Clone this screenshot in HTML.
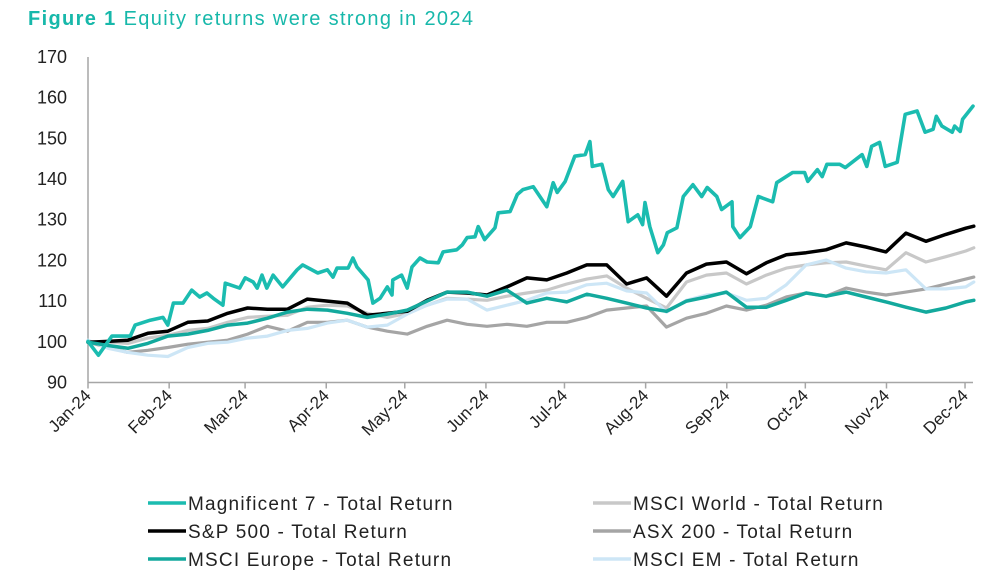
<!DOCTYPE html>
<html><head><meta charset="utf-8"><style>
html,body{margin:0;padding:0;background:#fff;}
svg{display:block;font-family:"Liberation Sans","DejaVu Sans",sans-serif;}
</style></head><body>
<svg id="chart" width="992" height="578" viewBox="0 0 992 578" xmlns="http://www.w3.org/2000/svg">
<text x="28" y="25" font-size="20" fill="#17b8aa" textLength="445" lengthAdjust="spacing"><tspan font-weight="bold">Figure 1</tspan> Equity returns were strong in 2024</text>
<g id="axes"></g>
<g id="series"></g>
<g id="legend"></g>
</svg>
<script>
const yTicks=[90,100,110,120,130,140,150,160,170];
const monthLabels=["Jan-24","Feb-24","Mar-24","Apr-24","May-24","Jun-24","Jul-24","Aug-24","Sep-24","Oct-24","Nov-24","Dec-24"];
const monthDays=[0,31,60,91,121,152,182,213,244,274,305,335];
const mag7X=[0,0.13,0.30,0.53,0.59,0.78,0.94,1.00,1.07,1.19,1.30,1.40,1.49,1.57,1.69,1.72,1.90,1.97,2.07,2.12,2.18,2.24,2.32,2.44,2.62,2.69,2.88,3.00,3.07,3.12,3.26,3.32,3.37,3.51,3.57,3.66,3.75,3.81,3.82,3.93,4.00,4.06,4.16,4.25,4.39,4.45,4.62,4.69,4.75,4.85,4.89,4.97,5.10,5.14,5.29,5.38,5.45,5.58,5.75,5.83,5.88,5.98,6.10,6.23,6.29,6.32,6.44,6.52,6.58,6.70,6.77,6.89,6.95,6.98,7.04,7.14,7.21,7.26,7.38,7.46,7.58,7.69,7.76,7.88,7.94,8.07,8.08,8.17,8.30,8.40,8.58,8.63,8.83,8.98,9.02,9.14,9.20,9.26,9.42,9.49,9.70,9.76,9.82,9.92,9.99,10.14,10.24,10.39,10.49,10.59,10.63,10.70,10.83,10.86,10.93,10.96,11.09];
const mag7Y=[100.1,96.7,101.4,101.4,104.1,105.3,106.0,104.1,109.5,109.5,112.7,111.0,112.0,110.7,109.0,114.4,113.2,115.7,114.7,113.2,116.4,113.2,116.4,113.5,117.7,118.9,116.9,117.7,115.9,118.1,118.1,120.6,118.4,115.2,109.5,110.7,113.5,111.5,115.2,116.4,113.2,118.4,120.6,119.6,119.4,122.1,122.6,123.8,125.6,125.8,128.3,125.1,128.0,131.7,132.0,136.2,137.4,138.1,133.2,139.1,136.7,139.4,145.6,146.0,149.2,143.1,143.6,137.4,135.7,139.4,129.5,131.2,128.8,134.2,128.3,121.9,123.8,126.8,128.0,135.7,138.6,135.7,137.9,135.7,132.5,134.4,128.3,125.6,128.3,135.7,134.4,139.1,141.6,141.6,139.4,142.3,140.6,143.6,143.6,142.8,146.0,143.1,148.0,149.0,143.1,144.1,155.9,156.7,151.5,152.2,155.4,153.0,151.5,153.0,151.7,154.7,157.9];
const gridX=[0,0.25,0.5,0.75,1,1.25,1.5,1.75,2,2.25,2.5,2.75,3,3.25,3.5,3.75,4,4.25,4.5,4.75,5,5.25,5.5,5.75,6,6.25,6.5,6.75,7,7.25,7.5,7.75,8,8.25,8.5,8.75,9,9.25,9.5,9.75,10,10.25,10.5,10.75,11,11.1];
const spY=[99.9,100.1,100.4,102.1,102.6,104.8,105.1,107.0,108.3,108.0,108.0,110.5,110.0,109.5,106.5,107.0,107.5,110.2,112.2,112.0,111.5,113.5,115.7,115.2,116.9,118.9,118.9,114.2,115.7,111.2,116.9,119.1,119.6,116.7,119.4,121.4,121.9,122.6,124.3,123.3,122.1,126.7,124.7,126.4,127.9,128.4];
const worldY=[99.9,99.9,99.6,100.9,101.6,102.8,103.3,104.8,106.0,106.3,106.5,108.5,109.0,108.8,107.0,106.0,107.0,109.0,110.7,110.5,110.2,111.2,112.0,112.7,114.2,115.4,116.2,113.2,110.7,108.3,114.7,116.4,116.9,114.2,116.4,118.1,118.9,119.4,119.6,118.6,117.7,121.9,119.6,120.9,122.3,123.1];
const asxY=[99.9,98.6,97.4,97.9,98.6,99.4,99.9,100.4,101.9,103.8,102.6,104.8,104.8,105.3,103.6,102.6,101.9,103.8,105.3,104.3,103.8,104.3,103.8,104.8,104.8,106.0,107.8,108.3,108.8,103.6,105.8,107.0,108.8,107.8,109.0,111.0,112.0,111.2,113.2,112.2,111.5,112.2,113.0,114.2,115.4,115.9];
const europeY=[99.9,99.1,98.4,99.6,101.4,101.9,102.8,104.1,104.6,105.8,107.3,108.0,107.8,107.0,106.0,106.8,107.8,110.0,112.2,112.2,111.2,112.7,109.5,110.7,109.8,111.7,110.7,109.5,108.3,107.5,110.0,111.0,112.2,108.5,108.5,110.2,112.0,111.2,112.2,111.0,109.8,108.5,107.3,108.3,109.8,110.2];
const emY=[100.4,98.4,97.4,96.7,96.4,98.6,99.6,99.9,100.9,101.4,102.8,103.3,104.6,105.3,103.6,104.1,106.8,109.0,110.5,110.5,107.8,109.0,110.2,112.0,112.2,114.0,114.4,112.5,112.0,107.3,110.2,111.5,112.0,110.2,110.7,114.0,118.9,120.1,118.1,117.2,116.9,117.7,113.0,113.0,113.5,114.7];

const NS="http://www.w3.org/2000/svg";
const X0=88,PXM=79.8,YB=382.5,PXV=4.07;
function xs(m){return X0+m*PXM;}
function xd(d){return X0+d*2.618;}
function ys(v){return YB-(v-90)*PXV;}
function mk(tag,attrs,parent){const e=document.createElementNS(NS,tag);for(const k in attrs)e.setAttribute(k,attrs[k]);parent.appendChild(e);return e;}
const axes=document.getElementById('axes');
let e=mk('line',{x1:X0,y1:57,x2:X0,y2:YB,stroke:'#a6a6a6','stroke-width':1.5},axes);


e=mk('line',{x1:X0,y1:YB,x2:973,y2:YB,stroke:'#a6a6a6','stroke-width':1.5},axes);


yTicks.forEach(v=>{const t=mk('text',{x:67,y:ys(v)+6,'text-anchor':'end','font-size':18,fill:'#222'},axes);t.textContent=v;

});
monthDays.forEach((d,i)=>{const x=xd(d);
const tk=mk('line',{x1:x,y1:YB,x2:x,y2:YB+6,stroke:'#a6a6a6','stroke-width':1.5},axes);


const t=mk('text',{x:x+4,y:YB+14,'text-anchor':'end','font-size':17,fill:'#222',transform:`rotate(-45 ${x+4} ${YB+14})`},axes);t.textContent=monthLabels[i];

});
const sg=document.getElementById('series');
function line(xa,ya,color,w,name){const d=xa.map((m,i)=>(i?'L':'M')+xs(m).toFixed(1)+','+ys(ya[i]).toFixed(1)).join('');
const p=mk('path',{d:d,fill:'none',stroke:color,'stroke-width':w,'stroke-linejoin':'round','stroke-linecap':'round'},sg);

}
line(gridX,asxY,'#a5a5a5',3.2,'asx200-line');
line(gridX,worldY,'#c8c8c8',3.2,'msci-world-line');
line(gridX,emY,'#cde6f6',3.2,'msci-em-line');
line(gridX,spY,'#000000',3.5,'sp500-line');
line(gridX,europeY,'#13a99d',3.5,'msci-europe-line');
line(mag7X,mag7Y,'#1bbcb0',3.6,'magnificent7-line');
const lg=document.getElementById('legend');
const legendItems=[["Magnificent 7 - Total Return","#1bbcb0",148,503],["S&P 500 - Total Return","#000000",148,531],["MSCI Europe - Total Return","#13a99d",148,559],["MSCI World - Total Return","#c8c8c8",593,503],["ASX 200 - Total Return","#a5a5a5",593,531],["MSCI EM - Total Return","#cde6f6",593,559]];
legendItems.forEach(it=>{const g=mk('g',{},lg);


mk('line',{x1:it[2],y1:it[3],x2:it[2]+38,y2:it[3],stroke:it[1],'stroke-width':3.5},g);
const t=mk('text',{x:it[2]+40,y:it[3]+7,'font-size':19,fill:'#222','letter-spacing':'1.2'},g);t.textContent=it[0];});
</script>
</body></html>
